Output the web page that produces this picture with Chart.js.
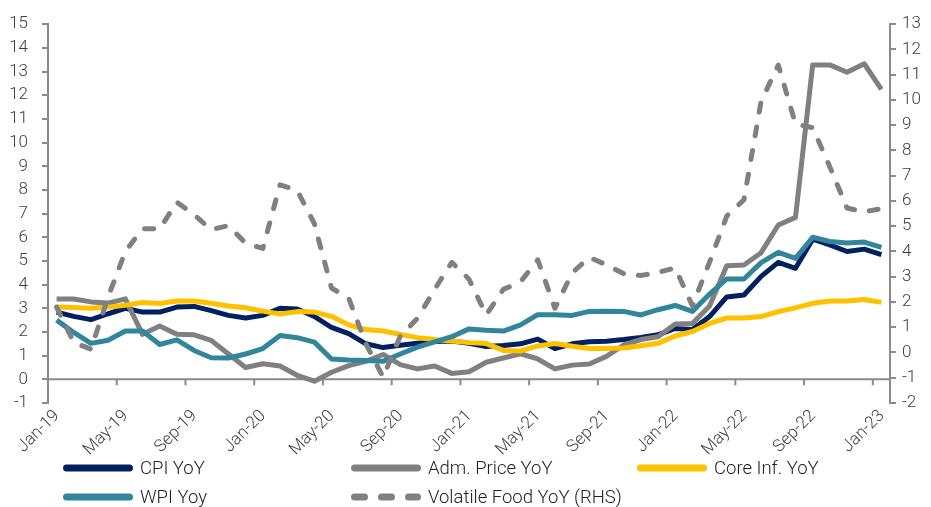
<!DOCTYPE html>
<html>
<head>
  <meta charset="UTF-8">
  <title>Inflation components YoY</title>
  <script src="https://cdn.jsdelivr.net/npm/chart.js@4"></script>
  <style>
    body {
      margin: 0;
      background: #fff;
      font-family: Roboto, sans-serif;
    }

    #wrap {
      position: relative;
      width: 931px;
      height: 507px;
    }

    #chart {
      position: absolute;
      left: 0;
      top: 0;
    }

    .legend-item {
      position: absolute;
      height: 24px;
      display: flex;
      align-items: center;
      font-size: 18.5px;
      font-weight: 300;
      color: #222;
      white-space: nowrap;
    }
  </style>
</head>
<body>
  <div id="wrap">
    <canvas id="chart" width="931" height="507"></canvas>
    <div id="legend"></div>
  </div>

  <script>
    // tick labels every 4 months, Jan-19 .. Jan-23
    const tickLabels = ["Jan-19", "May-19", "Sep-19", "Jan-20", "May-20", "Sep-20", "Jan-21",
                        "May-21", "Sep-21", "Jan-22", "May-22", "Sep-22", "Jan-23"];

    // monthly YoY %, Jan-19 .. Jan-23
    const cpi = [2.84, 2.66, 2.52, 2.77, 3.0, 2.84, 2.84, 3.05, 3.08, 2.9,
                 2.7, 2.59, 2.7, 3.0, 2.97, 2.66, 2.19, 1.93, 1.5, 1.34,
                 1.44, 1.52, 1.6, 1.62, 1.52, 1.39, 1.43, 1.5, 1.7, 1.3,
                 1.5, 1.59, 1.61, 1.68, 1.77, 1.88, 2.15, 2.1, 2.65, 3.48,
                 3.56, 4.35, 4.94, 4.69, 5.92, 5.68, 5.4, 5.5, 5.27];
    const admPrice = [3.39, 3.39, 3.27, 3.22, 3.4, 1.9, 2.25, 1.9, 1.88, 1.64,
                      1.07, 0.5, 0.66, 0.56, 0.17, -0.08, 0.3, 0.58, 0.76, 1.05,
                      0.62, 0.44, 0.56, 0.25, 0.32, 0.72, 0.9, 1.08, 0.86, 0.44,
                      0.6, 0.65, 0.97, 1.45, 1.68, 1.8, 2.34, 2.36, 3.1, 4.8,
                      4.83, 5.35, 6.52, 6.84, 13.28, 13.28, 12.97, 13.33, 12.25];
    const coreInf = [3.05, 3.03, 3.0, 3.05, 3.13, 3.25, 3.2, 3.31, 3.31, 3.21,
                     3.1, 3.02, 2.88, 2.76, 2.86, 2.84, 2.66, 2.3, 2.1, 2.04,
                     1.9, 1.76, 1.68, 1.62, 1.55, 1.51, 1.22, 1.2, 1.41, 1.51,
                     1.4, 1.3, 1.3, 1.32, 1.42, 1.52, 1.83, 2.02, 2.36, 2.59,
                     2.59, 2.65, 2.86, 3.02, 3.21, 3.31, 3.31, 3.37, 3.25];
    const wpi = [2.5, 1.98, 1.52, 1.65, 2.04, 2.04, 1.47, 1.67, 1.22, 0.91,
                 0.9, 1.07, 1.3, 1.85, 1.76, 1.57, 0.86, 0.82, 0.8, 0.76,
                 1.07, 1.36, 1.58, 1.8, 2.13, 2.07, 2.04, 2.3, 2.73, 2.73,
                 2.7, 2.87, 2.88, 2.87, 2.72, 2.94, 3.12, 2.87, 3.6, 4.24,
                 4.24, 4.93, 5.36, 5.11, 6.0, 5.82, 5.76, 5.8, 5.57];
    const volatileFood = [1.8, 0.4, 0.13, 2.2, 4.0, 4.9, 4.9, 5.95, 5.45, 4.87,
                          5.02, 4.33, 4.12, 6.64, 6.42, 5.1, 2.55, 2.15, 0.35, -0.98,
                          0.65, 1.35, 2.5, 3.57, 2.9, 1.49, 2.5, 2.8, 3.67, 1.75,
                          3.15, 3.77, 3.47, 3.12, 3.05, 3.17, 3.35, 1.85, 3.58, 5.4,
                          6.05, 9.95, 11.38, 9.05, 8.9, 7.35, 5.72, 5.57, 5.7];

    const axisColor = "#8a8a8a";
    const labelColor = "#404040";

    // points sit in the middle of each month slot
    const toPoints = arr => arr.map((v, i) => ({ x: i + 0.5, y: v }));

    const series = [
      { label: "CPI YoY", data: cpi, color: "#002060", axis: "y", dash: [] },
      { label: "Adm. Price YoY", data: admPrice, color: "#808080", axis: "y", dash: [] },
      { label: "Core Inf. YoY", data: coreInf, color: "#FFC000", axis: "y", dash: [] },
      { label: "WPI Yoy", data: wpi, color: "#31859C", axis: "y", dash: [] },
      { label: "Volatile Food YoY (RHS)", data: volatileFood, color: "#808080", axis: "y2", dash: [9, 15] }
    ];

    // zero line with month ticks (the horizontal axis crosses at 0)
    const zeroAxis = {
      id: "zeroAxis",
      beforeDatasetsDraw(chart) {
        const { ctx, chartArea, scales } = chart;
        const y0 = scales.y.getPixelForValue(0);
        ctx.save();
        ctx.strokeStyle = axisColor;
        ctx.lineWidth = 2;
        ctx.beginPath();
        ctx.moveTo(chartArea.left, y0);
        ctx.lineTo(chartArea.right, y0);
        scales.x.ticks.forEach(t => {
          const px = scales.x.getPixelForValue(t.value);
          ctx.moveTo(px, y0);
          ctx.lineTo(px, y0 + 6);
        });
        ctx.stroke();
        ctx.restore();
      }
    };

    Chart.defaults.font.family = "Roboto, sans-serif";
    Chart.defaults.color = labelColor;

    new Chart(document.getElementById("chart"), {
      type: "line",
      data: {
        datasets: series.map((s, i) => ({
          label: s.label,
          data: toPoints(s.data),
          yAxisID: s.axis,
          borderColor: s.color,
          borderWidth: 5,
          borderDash: s.dash,
          borderCapStyle: s.dash.length ? "round" : "butt",
          borderJoinStyle: "round",
          pointRadius: 0,
          tension: 0,
          fill: false,
          order: series.length - i
        }))
      },
      options: {
        responsive: false,
        animation: false,
        layout: { padding: { top: 18, left: 0, right: 0, bottom: 0 } },
        plugins: {
          legend: { display: false },
          tooltip: { enabled: false }
        },
        scales: {
          x: {
            type: "linear",
            min: 0,
            max: 49,
            afterBuildTicks: scale => {
              scale.ticks = tickLabels.map((_, i) => ({ value: i * 4 }));
            },
            afterFit: scale => { scale.height = 104; },
            grid: { display: false },
            border: { display: false },
            ticks: {
              autoSkip: false,
              minRotation: 45,
              maxRotation: 45,
              padding: -5,
              labelOffset: 9,
              font: { size: 17, weight: 300 },
              callback: v => tickLabels[v / 4]
            }
          },
          y: {
            position: "left",
            min: -1,
            max: 15,
            afterFit: scale => { scale.width = 48; },
            grid: { drawOnChartArea: false, color: axisColor, lineWidth: 2, tickLength: 6 },
            border: { display: true, color: axisColor, width: 2 },
            ticks: { stepSize: 1, padding: 14, font: { size: 17, weight: 300 } }
          },
          y2: {
            position: "right",
            min: -2,
            max: 13,
            afterFit: scale => { scale.width = 41; },
            grid: { drawOnChartArea: false, color: axisColor, lineWidth: 2, tickLength: 6 },
            border: { display: true, color: axisColor, width: 2 },
            ticks: { stepSize: 1, padding: 6, font: { size: 17, weight: 300 } }
          }
        }
      },
      plugins: [zeroAxis]
    });

    // legend: three columns, two rows
    const legendPos = [
      { left: 63, top: 456 }, { left: 351, top: 456 }, { left: 637, top: 456 },
      { left: 63, top: 485 }, { left: 351, top: 485 }
    ];
    const legend = document.getElementById("legend");
    series.forEach((s, i) => {
      const item = document.createElement("div");
      item.className = "legend-item";
      item.style.left = legendPos[i].left + "px";
      item.style.top = legendPos[i].top + "px";
      const dash = s.dash.length ? ' stroke-dasharray="10 17"' : "";
      item.innerHTML =
        `<svg width="77" height="12"><line x1="3.5" y1="6" x2="66.5" y2="6" stroke="${s.color}" ` +
        `stroke-width="7" stroke-linecap="round"${dash}/></svg><span>${s.label}</span>`;
      legend.appendChild(item);
    });
  </script>
</body>
</html>
